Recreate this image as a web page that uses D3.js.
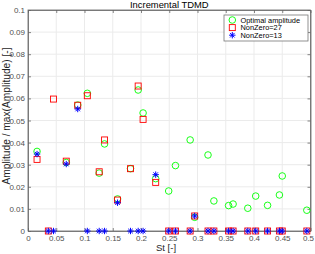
<!DOCTYPE html>
<html><head><meta charset="utf-8">
<script src="https://cdn.jsdelivr.net/npm/d3@7"></script>
<style>body{margin:0;background:#fff}svg{display:block;font-family:"Liberation Sans",Arial,sans-serif}</style>
</head><body><svg id="c" width="315" height="254"></svg>
<script>
const st = [0.016,0.036,0.0452,0.0677,0.088,0.105,0.126,0.1355,0.1585,0.1814,0.195,0.2037,0.226,0.249,0.261,0.287,0.295,0.3186,0.329,0.355,0.363,0.389,0.403,0.424,0.445,0.450,0.4935];
const optimal = [0.036,null,null,0.031,0.057,0.0623,0.0262,0.0394,0.0145,0.0282,0.0638,0.0534,0.0237,0.0181,0.0296,0.0412,0.0062,0.0344,0.0136,0.0115,0.0122,0.0103,0.0158,0.0116,0.0163,0.0249,0.0094];
const nz27 = [0.0324,0,0.0597,0.0316,0.0569,0.0612,0.0268,0.0412,0.014,0.0282,0.0656,0.0505,0.022,0,0,0,0.0068,0,0,0,0,0,0,0,0,0,0];
const nz13 = [0.0348,0,0,0.0303,0.0552,0,0,0,0.0128,0,0,0,0.0255,0,0,0,0.0068,0,0,0,0,0,0,0,0,0,0];
const xTicks = [0,0.05,0.1,0.15,0.2,0.25,0.3,0.35,0.4,0.45,0.5];
const yTicks = [0,0.01,0.02,0.03,0.04,0.05,0.06,0.07,0.08,0.09,0.1];
const seriesNames = ["Optimal amplitude","NonZero=27","NonZero=13"];

const L=28,R=310.5,T=10,B=231;
const svg=d3.select("#c");
const x=d3.scaleLinear().domain([0,0.5]).range([L,R]);
const y=d3.scaleLinear().domain([0,0.1]).range([B,T]);
const axCol="#666", txtCol="#505050";

// grid
svg.append("g").selectAll("line").data(xTicks.slice(1,-1)).join("line")
  .attr("x1",d=>x(d)).attr("x2",d=>x(d)).attr("y1",T).attr("y2",B)
  .attr("stroke","#ebebeb").attr("stroke-width",1);
svg.append("g").selectAll("line").data(yTicks.slice(1,-1)).join("line")
  .attr("y1",d=>y(d)).attr("y2",d=>y(d)).attr("x1",L).attr("x2",R)
  .attr("stroke","#ebebeb").attr("stroke-width",1);

// axes
const fmt=d=>String(d);
const xa=svg.append("g").attr("transform",`translate(0,${B})`)
  .call(d3.axisBottom(x).tickValues(xTicks).tickFormat(fmt).tickSizeInner(-3).tickSizeOuter(0).tickPadding(4));
const xt=svg.append("g").attr("transform",`translate(0,${T})`)
  .call(d3.axisTop(x).tickValues(xTicks).tickFormat("").tickSizeInner(-3).tickSizeOuter(0));
const ya=svg.append("g").attr("transform",`translate(${L},0)`)
  .call(d3.axisLeft(y).tickValues(yTicks).tickFormat(fmt).tickSizeInner(-3).tickSizeOuter(0).tickPadding(3));
const yr=svg.append("g").attr("transform",`translate(${R},0)`)
  .call(d3.axisRight(y).tickValues(yTicks).tickFormat("").tickSizeInner(-3).tickSizeOuter(0));
[xa,xt,ya,yr].forEach(g=>{
  g.select(".domain").attr("stroke",axCol).attr("stroke-width",0.8);
  g.selectAll(".tick line").attr("stroke",axCol).attr("stroke-width",0.8);
  g.selectAll("text").attr("fill",txtCol).attr("font-size","8px").attr("font-family","Liberation Sans, Arial, sans-serif");
});
xa.selectAll(".tick text").filter(d=>d===0.5).attr("dx",-2.5);
svg.append("rect").attr("x",L).attr("y",T).attr("width",R-L).attr("height",B-T)
  .attr("fill","none").attr("stroke",axCol).attr("stroke-width",0.8);

// markers
const starPath=(s)=>{const d=s*0.707;return `M0,${-s}V${s}M${-s},0H${s}M${-d},${-d}L${d},${d}M${-d},${d}L${d},${-d}`;};
const g=svg.append("g");
g.selectAll("circle.o").data(st.map((s,i)=>[s,optimal[i]]).filter(d=>d[1]!==null)).join("circle")
  .attr("cx",d=>x(d[0])).attr("cy",d=>y(d[1])).attr("r",3.3)
  .attr("fill","none").attr("stroke","#00ff00").attr("stroke-width",0.9);
g.selectAll("rect.s").data(st.map((s,i)=>[s,nz27[i]])).join("rect")
  .attr("x",d=>x(d[0])-3).attr("y",d=>y(d[1])-3).attr("width",6).attr("height",6)
  .attr("fill","none").attr("stroke","#ff0000").attr("stroke-width",0.9);
g.selectAll("path.st").data(st.map((s,i)=>[s,nz13[i]])).join("path")
  .attr("transform",d=>`translate(${x(d[0])},${y(d[1])})`).attr("d",starPath(3.2))
  .attr("fill","none").attr("stroke","#0000ff").attr("stroke-width",1);

// title & labels
svg.append("text").attr("x",(L+R)/2).attr("y",8).attr("text-anchor","middle")
  .attr("font-size","9.4px").attr("fill","#000").text("Incremental TDMD");
svg.append("text").attr("x",166).attr("y",251).attr("text-anchor","middle")
  .attr("font-size","9.5px").attr("fill","#262626").text("St [-]");
svg.append("text").attr("transform","translate(10,116) rotate(-90)").attr("text-anchor","middle")
  .attr("font-size","10.2px").attr("fill","#262626").text("Amplitude / max(Amplitude) [-]");

// legend
const lg=svg.append("g");
lg.append("rect").attr("x",224).attr("y",15).attr("width",84).attr("height",26)
  .attr("fill","#fff").attr("stroke","#777").attr("stroke-width",0.8);
const ly=[20,27.6,35.2];
lg.append("circle").attr("cx",232.3).attr("cy",ly[0]).attr("r",3.3).attr("fill","none").attr("stroke","#00ff00").attr("stroke-width",0.9);
lg.append("rect").attr("x",229.3).attr("y",ly[1]-3).attr("width",6).attr("height",6).attr("fill","none").attr("stroke","#ff0000").attr("stroke-width",0.9);
lg.append("path").attr("transform",`translate(232.3,${ly[2]})`).attr("d",starPath(3.2)).attr("fill","none").attr("stroke","#0000ff");
lg.selectAll("text").data(seriesNames).join("text")
  .attr("x",240.5).attr("y",(d,i)=>ly[i]+2.6).attr("font-size","7.4px").attr("fill","#000").text(d=>d);
</script></body></html>
